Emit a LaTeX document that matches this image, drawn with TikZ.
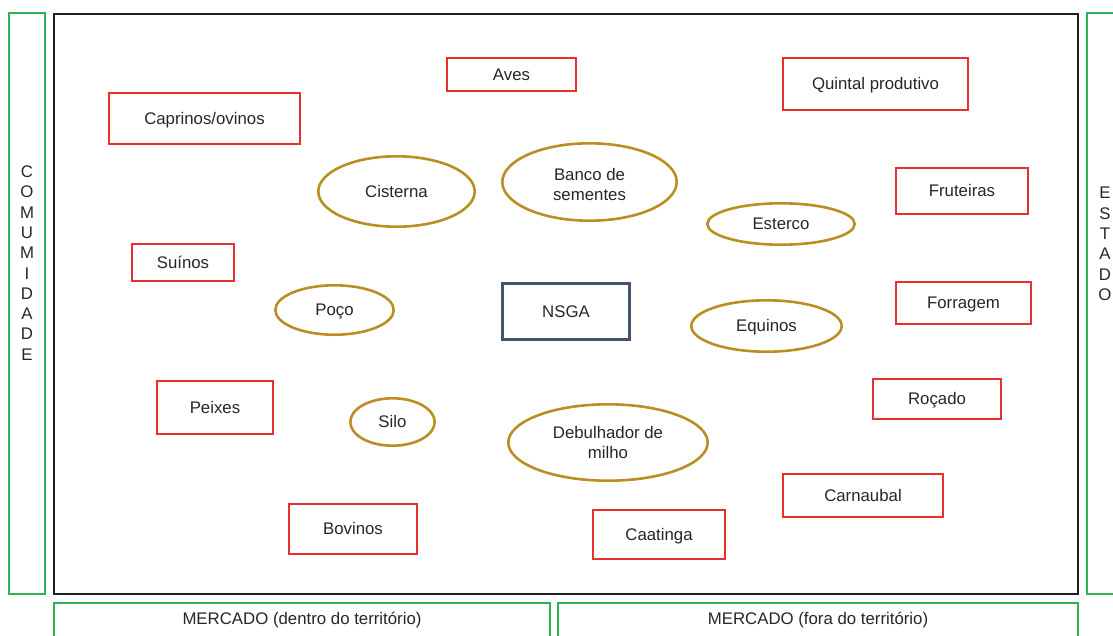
\documentclass[tikz,border=0pt]{standalone}
\usepackage{fontspec}
\setmainfont{Liberation Sans}
\usetikzlibrary{shapes.geometric}

\definecolor{boxred}{RGB}{234,46,46}
\definecolor{ovalgold}{RGB}{187,142,36}
\definecolor{framegreen}{RGB}{46,178,84}
\definecolor{coreblue}{RGB}{68,84,106}
\definecolor{framedark}{RGB}{30,30,30}
\definecolor{textdark}{RGB}{38,38,38}

\begin{document}
\begin{tikzpicture}[x=1pt, y=-1pt,
  every node/.style={font=\fontsize{16.8}{20.5}\selectfont, text=textdark, align=center},
  oneline/.style={text height=15.2pt, text depth=3.6pt},
  redbox/.style={draw=boxred, line width=2.2pt, rectangle, inner sep=0pt, oneline},
  goldoval/.style={draw=ovalgold, line width=2.6pt, ellipse, inner sep=0pt},
  corebox/.style={draw=coreblue, line width=2.6pt, rectangle, inner sep=0pt, oneline},
  greenframe/.style={draw=framegreen, line width=2.2pt},
  vertlabel/.style={font=\fontsize{16.8}{20.3}\selectfont}
]
\useasboundingbox (0,0) rectangle (1113,635);

% outer frames
\draw[draw=framedark, line width=2.7pt] (54,14) rectangle (1078,594);
\draw[greenframe] (9,13) rectangle (45,594);
\draw[greenframe] (1125,13) -- (1087,13) -- (1087,594) -- (1125,594);
\draw[greenframe] (54,645) -- (54,603) -- (550,603) -- (550,645);
\draw[greenframe] (558,645) -- (558,603) -- (1078,603) -- (1078,645);

% side and bottom labels
\node[vertlabel] (comunidade) at (27,263) {C\\O\\M\\U\\M\\I\\D\\A\\D\\E};
\node[vertlabel] (estado) at (1105,244) {E\\S\\T\\A\\D\\O};
\node[oneline] (mercadoin) at (302,619) {MERCADO (dentro do território)};
\node[oneline] (mercadoout) at (818,619) {MERCADO (fora do território)};

% central system
\node[corebox, minimum width=127.5pt, minimum height=56.5pt] (nsga) at (566,311.5) {NSGA};

% activities (red boxes)
\node[redbox, minimum width=128.8pt, minimum height=32.8pt] (aves) at (511.5,74.5) {Aves};
\node[redbox, minimum width=184.8pt, minimum height=51.8pt] (quintal) at (875.5,84) {Quintal produtivo};
\node[redbox, minimum width=190.8pt, minimum height=50.8pt] (caprinos) at (204.5,118.5) {Caprinos/ovinos};
\node[redbox, minimum width=131.8pt, minimum height=45.8pt] (fruteiras) at (962,191) {Fruteiras};
\node[redbox, minimum width=101.8pt, minimum height=36.8pt] (suinos) at (183,262.5) {Suínos};
\node[redbox, minimum width=134.8pt, minimum height=41.8pt] (forragem) at (963.5,303) {Forragem};
\node[redbox, minimum width=115.8pt, minimum height=52.8pt] (peixes) at (215,407.5) {Peixes};
\node[redbox, minimum width=127.8pt, minimum height=39.8pt] (rocado) at (937,399) {Roçado};
\node[redbox, minimum width=159.8pt, minimum height=42.8pt] (carnaubal) at (863,495.5) {Carnaubal};
\node[redbox, minimum width=127.8pt, minimum height=49.8pt] (bovinos) at (353,529) {Bovinos};
\node[redbox, minimum width=131.8pt, minimum height=48.8pt] (caatinga) at (659,534.5) {Caatinga};

% infrastructure (gold ovals)
\node[goldoval, oneline, minimum width=156.4pt, minimum height=70.4pt] (cisterna) at (396.5,191.5) {Cisterna};
\node[goldoval, minimum width=174.4pt, minimum height=77.4pt] (banco) at (589.5,182) {\rule{0pt}{17pt}Banco de\\sementes};
\node[goldoval, oneline, minimum width=147.4pt, minimum height=41.4pt] (esterco) at (781,224) {Esterco};
\node[goldoval, oneline, minimum width=118.4pt, minimum height=49.4pt] (poco) at (334.5,310) {Poço};
\node[goldoval, oneline, minimum width=150.4pt, minimum height=51.4pt] (equinos) at (766.5,326) {Equinos};
\node[goldoval, oneline, minimum width=84.4pt, minimum height=47.4pt] (silo) at (392.5,422) {Silo};
\node[goldoval, minimum width=199.4pt, minimum height=76.4pt] (debulhador) at (608,442.5) {Debulhador de\\milho};
\end{tikzpicture}
\end{document}
